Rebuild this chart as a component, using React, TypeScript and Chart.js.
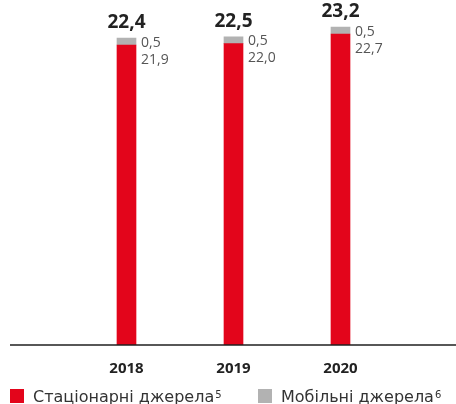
import React, { useEffect, useRef } from "react";
import { Chart, registerables } from "chart.js";

Chart.register(...registerables);

const categories = ["2018", "2019", "2020"];
const stationary = [21.9, 22.0, 22.7];
const mobile = [0.5, 0.5, 0.5];
const totals = [22.4, 22.5, 23.2];
const seriesNames = ["Стаціонарні джерела", "Мобільні джерела"];
const seriesNotes = ["5", "6"];
const seriesColors = ["#E3051B", "#B2B2B2"];

const FONT = "'Open Sans', sans-serif";
const LEGEND_FONT = "'DejaVu Sans', sans-serif";
const fmt = (v: number) => v.toFixed(1).replace(".", ",");

const decorPlugin = {
  id: "decor",
  afterDatasetsDraw(chart: any) {
    const ctx = chart.ctx;
    const y0 = chart.scales.y.getPixelForValue(0);
    ctx.save();
    ctx.strokeStyle = "#1f1f1f";
    ctx.lineWidth = 1.5;
    ctx.beginPath();
    ctx.moveTo(10, y0);
    ctx.lineTo(chart.width, y0);
    ctx.stroke();

    const m1 = chart.getDatasetMeta(1).data;
    categories.forEach((_, i) => {
      const grey = m1[i] as any;
      ctx.font = `bold 19px ${FONT}`;
      ctx.fillStyle = "#222222";
      ctx.textAlign = "center";
      ctx.textBaseline = "alphabetic";
      ctx.fillText(fmt(totals[i]), grey.x, grey.y - 10);
      const lx = grey.x + grey.width / 2 + 5;
      const gy = (grey.y + grey.base) / 2;
      ctx.font = `14px ${FONT}`;
      ctx.fillStyle = "#555555";
      ctx.textAlign = "left";
      ctx.textBaseline = "middle";
      ctx.fillText(fmt(mobile[i]), lx, gy + 1);
      ctx.fillText(fmt(stationary[i]), lx, gy + 18);
    });
    ctx.restore();
  },
  afterDraw(chart: any) {
    const ctx = chart.ctx;
    ctx.save();
    const xs = [10, 258];
    seriesNames.forEach((name, i) => {
      const x = xs[i];
      ctx.fillStyle = seriesColors[i];
      ctx.fillRect(x, 389, 14, 14);
      ctx.font = `16px ${LEGEND_FONT}`;
      ctx.fillStyle = "#333333";
      ctx.textAlign = "left";
      ctx.textBaseline = "alphabetic";
      ctx.fillText(name, x + 23, 402);
      const w = ctx.measureText(name).width;
      ctx.font = `10px ${LEGEND_FONT}`;
      ctx.fillText(seriesNotes[i], x + 23 + w + 1, 398);
    });
    ctx.restore();
  },
};

export default function App() {
  const ref = useRef<HTMLCanvasElement | null>(null);
  useEffect(() => {
    if (!ref.current) return;
    const chart = new Chart(ref.current, {
      type: "bar",
      data: {
        labels: categories,
        datasets: [
          { label: seriesNames[0], data: stationary, backgroundColor: seriesColors[0], barThickness: 19 },
          { label: seriesNames[1], data: mobile, backgroundColor: seriesColors[1], barThickness: 19 },
        ],
      },
      options: {
        animation: false,
        responsive: false,
        maintainAspectRatio: false,
        layout: { padding: { left: 73, right: 62, top: 2.5, bottom: 11 } },
        plugins: { legend: { display: false }, tooltip: { enabled: false } },
        scales: {
          x: {
            stacked: true,
            grid: { display: false, drawTicks: false },
            border: { display: false },
            ticks: { color: "#222222", font: { family: FONT, size: 15, weight: "bold" }, padding: 15 },
          },
          y: {
            stacked: true,
            display: false,
            min: 0,
            max: 25,
          },
        },
      },
      plugins: [decorPlugin],
    });
    return () => chart.destroy();
  }, []);
  return (
    <div style={{ position: "absolute", left: 0, top: 0, width: 456, height: 404 }}>
      <canvas ref={ref} width={456} height={404} />
    </div>
  );
}
